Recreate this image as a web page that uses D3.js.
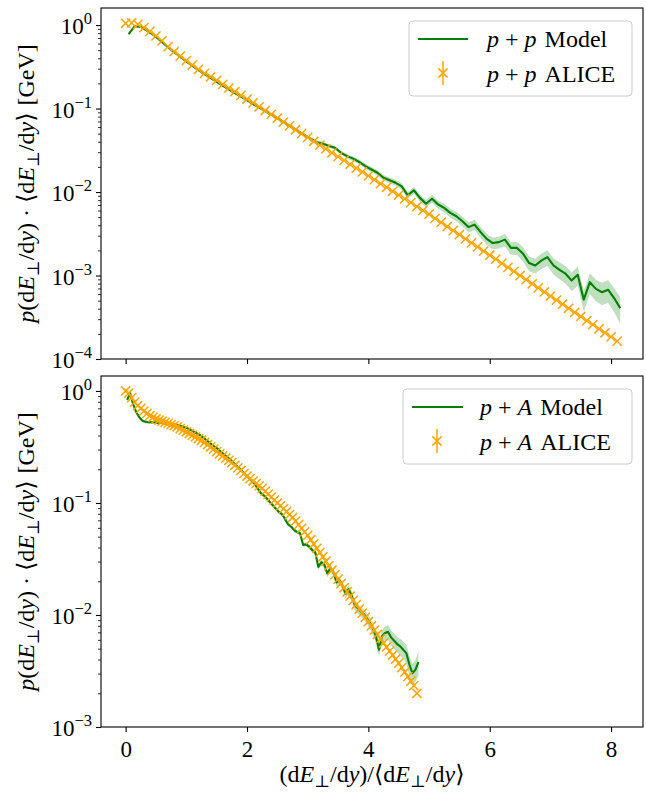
<!DOCTYPE html>
<html><head><meta charset="utf-8">
<script src="https://cdn.jsdelivr.net/npm/d3@7"></script>
<style>
body{margin:0;background:#fff}
svg{display:block}
text{font-family:"Liberation Serif","DejaVu Serif",serif;fill:#000}
</style>
</head><body><svg id="c" width="646" height="792"></svg>
<script>
// ---------- data: top panel (p+p) ----------
const ppAliceX = [0,0.1,0.2,0.3,0.4,0.5,0.6,0.7,0.8,0.9,1.0,1.1,1.2,1.3,1.4,1.5,1.6,1.7,1.8,1.9,
2.0,2.1,2.2,2.3,2.4,2.5,2.6,2.7,2.8,2.9,3.0,3.1,3.2,3.3,3.4,3.5,3.6,3.7,3.8,3.9,
4.0,4.1,4.2,4.3,4.4,4.5,4.6,4.7,4.8,4.9,5.0,5.1,5.2,5.3,5.4,5.5,5.6,5.7,5.8,5.9,
6.0,6.1,6.2,6.3,6.4,6.5,6.6,6.7,6.8,6.9,7.0,7.1,7.2,7.3,7.4,7.5,7.6,7.7,7.8,7.9,8.0,8.1];
const ppAliceY = [1.05,1.06,1.02,0.93,0.84,0.74,0.645,0.55,0.48,0.425,0.375,0.332,0.295,0.264,0.240,0.217,0.195,0.176,0.159,0.144,
0.130,0.117,0.105,0.0946,0.0851,0.0766,0.0689,0.0619,0.0557,0.0501,
0.0451,0.0405,0.0365,0.0328,0.0295,0.0265,0.0239,0.0215,0.0193,0.0174,
0.0156,0.0141,0.0126,0.0114,0.0102,0.0092,0.00828,0.00745,0.0067,0.00603,
0.00542,0.00484,0.00433,0.00386,0.00345,0.00308,0.00275,0.00246,0.0022,0.00196,
0.00175,0.00157,0.0014,0.00125,0.00112,0.000998,0.000891,0.000796,0.000711,0.000635,
0.000568,0.000507,0.000453,0.000405,0.000361,0.000323,0.000288,0.000258,0.00023,0.000206,
0.000184,0.000164];
const ppModelX = [0.05,0.15,0.25,0.35,0.45,0.55,0.65,0.75,0.85,0.95,1.05,1.15,1.25,1.35,1.45,1.55,1.65,1.75,1.85,1.95,
2.05,2.15,2.25,2.35,2.45,2.55,2.65,2.75,2.85,2.95,3.05,3.15,3.25,3.35,3.45,3.55,3.65,3.75,3.85,3.95,
4.05,4.15,4.25,4.35,4.45,4.55,4.65,4.75,4.85,4.95,5.05,5.15,5.25,5.35,5.45,5.55,5.65,5.75,5.85,5.95,
6.05,6.15,6.25,6.35,6.45,6.55,6.65,6.75,6.85,6.95,7.05,7.15,7.25,7.35,7.45,7.55,7.65,7.75,7.85,7.95,8.05,8.15];
const ppModelY = [0.78,0.97,0.95,0.86,0.77,0.67,0.58,0.505,0.445,0.39,
0.345,0.305,0.272,0.244,0.220,0.198,0.178,0.161,0.146,0.132,
0.119,0.108,0.098,0.089,0.0805,0.0725,0.0655,0.059,0.0532,0.048,
0.0435,0.0395,0.0380,0.0355,0.0339,0.0295,0.0269,0.0251,0.0229,0.0204,
0.0186,0.0170,0.0148,0.0138,0.0129,0.0117,0.00912,0.0105,0.00851,0.00724,
0.00832,0.00708,0.00646,0.00562,0.00513,0.00447,0.0038,0.00407,0.00331,0.00275,
0.00245,0.00251,0.00269,0.00214,0.00214,0.00182,0.00141,0.00132,0.00151,0.00166,
0.00132,0.00117,0.00105,0.000871,0.00102,0.000513,0.000832,0.000692,0.000631,0.000676,
0.000537,0.000407];
const ppModelErr = [0.03,0.02,0.02,0.02,0.02,0.02,0.02,0.02,0.02,0.02,
0.02,0.02,0.02,0.02,0.02,0.02,0.02,0.02,0.02,0.02,
0.03,0.03,0.03,0.03,0.03,0.03,0.03,0.03,0.03,0.03,
0.04,0.04,0.05,0.05,0.05,0.05,0.06,0.06,0.06,0.07,
0.07,0.07,0.08,0.08,0.08,0.09,0.09,0.1,0.1,0.1,
0.11,0.11,0.12,0.12,0.13,0.13,0.14,0.14,0.15,0.15,
0.16,0.16,0.17,0.17,0.18,0.19,0.2,0.2,0.21,0.21,
0.22,0.23,0.24,0.25,0.26,0.28,0.28,0.29,0.3,0.3,
0.32,0.35];

// ---------- data: bottom panel (p+A) ----------
const pAAliceX = [0,0.05,0.1,0.15,0.2,0.25,0.3,0.35,0.4,0.45,0.5,0.55,0.6,0.65,0.7,0.75,0.8,0.85,0.9,0.95,
1.0,1.05,1.1,1.15,1.2,1.25,1.3,1.35,1.4,1.45,1.5,1.55,1.6,1.65,1.7,1.75,1.8,1.85,1.9,1.95,
2.0,2.05,2.1,2.15,2.2,2.25,2.3,2.35,2.4,2.45,2.5,2.55,2.6,2.65,2.7,2.75,2.8,2.85,2.9,2.95,
3.0,3.05,3.1,3.15,3.2,3.25,3.3,3.35,3.4,3.45,3.5,3.55,3.6,3.65,3.7,3.75,3.8,3.85,3.9,3.95,
4.0,4.05,4.1,4.15,4.2,4.25,4.3,4.35,4.4,4.45,4.5,4.55,4.6,4.65,4.7,4.75,4.8];
const pAAliceY = [1.00,0.955,0.871,0.794,0.741,0.700,0.661,0.631,0.603,0.582,
0.562,0.550,0.537,0.525,0.513,0.501,0.490,0.479,0.462,0.447,
0.432,0.417,0.403,0.389,0.376,0.363,0.347,0.331,0.316,0.302,
0.288,0.275,0.263,0.251,0.240,0.229,0.217,0.206,0.195,0.184,
0.174,0.165,0.157,0.149,0.142,0.135,0.127,0.120,0.113,0.106,
0.100,0.0942,0.0887,0.0836,0.0787,0.0741,0.0689,0.0640,0.0594,0.0552,
0.0513,0.0470,0.0431,0.0394,0.0361,0.0331,0.0302,0.0275,0.0251,0.0229,
0.0209,0.0191,0.0175,0.0161,0.0147,0.0135,0.0124,0.0113,0.0104,0.00951,
0.00871,0.00798,0.00731,0.00670,0.00614,0.00562,0.00518,0.00476,0.00439,0.00404,
0.00372,0.00339,0.00309,0.00282,0.00257,0.00234,0.00200];
const pAModelX = [0.025,0.075,0.125,0.175,0.225,0.275,0.325,0.375,0.425,0.475,0.525,0.575,0.625,0.675,0.725,0.775,0.825,0.875,0.925,0.975,
1.025,1.075,1.125,1.175,1.225,1.275,1.325,1.375,1.425,1.475,1.525,1.575,1.625,1.675,1.725,1.775,1.825,1.875,1.925,1.975,
2.025,2.075,2.125,2.175,2.225,2.275,2.325,2.375,2.425,2.475,2.525,2.575,2.625,2.675,2.725,2.775,2.825,2.875,2.925,2.975,
3.025,3.075,3.125,3.175,3.225,3.275,3.325,3.375,3.425,3.475,3.525,3.575,3.625,3.675,3.725,3.775,3.825,3.875,3.925,3.975,
4.025,4.075,4.125,4.175,4.225,4.275,4.325,4.375,4.425,4.475,4.525,4.575,4.625,4.675,4.725,4.775,4.825];
const pAModelY = [0.832,0.955,0.759,0.646,0.582,0.543,0.531,0.525,0.525,0.525,
0.519,0.519,0.513,0.513,0.507,0.507,0.501,0.495,0.484,0.473,
0.462,0.447,0.432,0.417,0.403,0.385,0.367,0.347,0.331,0.316,
0.302,0.285,0.269,0.257,0.243,0.229,0.216,0.204,0.191,0.178,
0.168,0.158,0.148,0.135,0.123,0.117,0.110,0.102,0.0955,0.0891,
0.0832,0.0794,0.0724,0.0646,0.0617,0.0575,0.0550,0.0537,0.0422,0.0427,
0.0407,0.0380,0.0363,0.0269,0.0295,0.0282,0.0234,0.0263,0.0240,0.0195,
0.0204,0.0182,0.0155,0.0170,0.0148,0.0123,0.0115,0.0107,0.0102,0.00933,
0.00851,0.00759,0.00646,0.00490,0.00646,0.00692,0.00708,0.00631,0.00589,0.00550,
0.00525,0.00490,0.00457,0.00363,0.00302,0.00324,0.00380];
const pAModelErr = [0.03,0.03,0.03,0.03,0.03,0.03,0.03,0.03,0.03,0.03,
0.02,0.02,0.02,0.02,0.02,0.02,0.02,0.02,0.02,0.02,
0.02,0.02,0.02,0.02,0.02,0.02,0.02,0.02,0.02,0.02,
0.02,0.02,0.02,0.02,0.02,0.02,0.02,0.02,0.02,0.02,
0.03,0.03,0.03,0.03,0.03,0.03,0.03,0.03,0.03,0.03,
0.04,0.04,0.04,0.04,0.04,0.04,0.04,0.04,0.04,0.04,
0.05,0.05,0.05,0.06,0.06,0.06,0.07,0.07,0.07,0.08,
0.08,0.08,0.09,0.09,0.09,0.1,0.1,0.1,0.11,0.11,
0.12,0.12,0.13,0.13,0.14,0.14,0.15,0.15,0.16,0.16,
0.17,0.18,0.19,0.2,0.21,0.22,0.24];
const aliceRelErr = 0.03;

const xTicks = [0, 2, 4, 6, 8];
const ppYTicks = [1, 0.1, 0.01, 0.001, 0.0001];
const ppYExp = ["0", "\u22121", "\u22122", "\u22123", "\u22124"];
const pAYTicks = [1, 0.1, 0.01, 0.001];
const pAYExp = ["0", "\u22121", "\u22122", "\u22123"];
const ppSystem = "p";
const pASystem = "A";

// ---------- drawing ----------
const svg = d3.select("#c");
const FT = 23;   // tick labels
const FL = 24;   // axis labels / legend
const GREEN = "#008000", ORANGE = "#ffa500";
const left = 101, right = 643;
const x = d3.scaleLinear().domain([-0.406, 8.526]).range([left, right]);

const panels = [
  {id:"pp", top:8, bottom:359, dom:[1e-4, 1.6], ticks:ppYTicks, exps:ppYExp, sys:ppSystem,
   aX:ppAliceX, aY:ppAliceY, mX:ppModelX, mY:ppModelY, mE:ppModelErr, xLabels:false,
   leg:{x:409, y:21, w:223, h:75, lineX0:418, lineX1:468, lineY:39, textX:487, markX:443, markY:73}},
  {id:"pA", top:376, bottom:727, dom:[1e-3, 1.36], ticks:pAYTicks, exps:pAYExp, sys:pASystem,
   aX:pAAliceX, aY:pAAliceY, mX:pAModelX, mY:pAModelY, mE:pAModelErr, xLabels:true,
   leg:{x:403, y:389, w:229, h:75, lineX0:412, lineX1:463, lineY:407, textX:480, markX:437, markY:441}}
];

function minorTicks(dom){
  const out = [];
  const lo = Math.floor(Math.log10(dom[0])), hi = Math.ceil(Math.log10(dom[1]));
  for (let e = lo; e <= hi; e++) for (let k = 2; k <= 9; k++) {
    const v = k * Math.pow(10, e);
    if (v >= dom[0] && v <= dom[1]) out.push(v);
  }
  return out;
}

// parts: [text, style, dx]
function mathText(sel, fs, parts){
  parts.forEach(p => {
    const t = sel.append("tspan").text(p[0]);
    const st = p[1];
    if (st.includes("i")) t.attr("font-style", "italic");
    if (st.includes("sub")) t.attr("font-size", fs*0.7).attr("dy", fs*0.22);
    if (st.includes("up")) t.attr("dy", -fs*0.22);
    if (p[2]) t.attr("dx", p[2]);
  });
}

function drawCross(sel, r){
  return sel.attr("d", `M${-r},${-r}L${r},${r}M${-r},${r}L${r},${-r}`)
    .attr("stroke", ORANGE).attr("stroke-width", 1.5).attr("fill", "none");
}

panels.forEach((P, pi) => {
  const y = d3.scaleLog().domain(P.dom).range([P.bottom, P.top]);
  const g = svg.append("g");
  const clipId = "clip" + pi;
  svg.append("clipPath").attr("id", clipId).append("rect")
    .attr("x", left).attr("y", P.top).attr("width", right-left).attr("height", P.bottom-P.top);
  const plot = g.append("g").attr("clip-path", `url(#${clipId})`);

  const model = P.mX.map((v,i) => ({x:v, y:P.mY[i], e:P.mE[i]}));
  const alice = P.aX.map((v,i) => ({x:v, y:P.aY[i]}));

  plot.append("path").datum(model)
    .attr("d", d3.area().x(d => x(d.x)).y0(d => y(d.y*(1-d.e))).y1(d => y(d.y*(1+d.e))))
    .attr("fill", GREEN).attr("fill-opacity", 0.25).attr("stroke", "none");
  plot.append("path").datum(model)
    .attr("d", d3.line().x(d => x(d.x)).y(d => y(d.y)))
    .attr("fill", "none").attr("stroke", GREEN).attr("stroke-width", 2.1).attr("stroke-linejoin", "round");
  plot.selectAll(".eb").data(alice).join("line")
    .attr("x1", d => x(d.x)).attr("x2", d => x(d.x))
    .attr("y1", d => y(d.y*(1-aliceRelErr))).attr("y2", d => y(d.y*(1+aliceRelErr)))
    .attr("stroke", ORANGE).attr("stroke-width", 1.5);
  plot.selectAll(".mk").data(alice).join("path")
    .attr("transform", d => `translate(${x(d.x)},${y(d.y)})`)
    .call(drawCross, 4.6);

  const ya = g.append("g").attr("transform", `translate(${left},0)`)
    .call(d3.axisLeft(y).tickValues(P.ticks).tickSize(5).tickFormat(() => ""));
  ya.select(".domain").remove();
  ya.selectAll("line").attr("stroke-width", 1.1);
  const ym = g.append("g").attr("transform", `translate(${left},0)`)
    .call(d3.axisLeft(y).tickValues(minorTicks(P.dom)).tickSize(3).tickFormat(() => ""));
  ym.select(".domain").remove();
  ym.selectAll("line").attr("stroke-width", 0.8);
  P.ticks.forEach((v, i) => {
    const t = g.append("text").attr("x", left - 9).attr("y", y(v) + 9)
      .attr("text-anchor", "end").attr("font-size", FT);
    t.append("tspan").text("10");
    t.append("tspan").text(P.exps[i]).attr("font-size", FT*0.72).attr("dy", -10);
  });

  const xa = g.append("g").attr("transform", `translate(0,${P.bottom})`)
    .call(d3.axisBottom(x).tickValues(xTicks).tickSize(5).tickPadding(9)
      .tickFormat(P.xLabels ? d3.format("d") : () => ""));
  xa.select(".domain").remove();
  xa.selectAll("line").attr("stroke-width", 1.1);
  xa.selectAll("text").attr("font-size", FT);

  g.append("rect").attr("x", left).attr("y", P.top).attr("width", right-left).attr("height", P.bottom-P.top)
    .attr("fill", "none").attr("stroke", "#000").attr("stroke-width", 1.1);

  const cy = (P.top + P.bottom) / 2;
  const yl = g.append("text").attr("transform", `translate(34,${cy}) rotate(-90)`)
    .attr("text-anchor", "middle").attr("font-size", FL);
  mathText(yl, FL, [["p","i"],["(d","n"],["E","i"],["\u22a5","sub"],["/d","up"],["y","i"],[")","n"],["\u00b7","n",6],["\u27e8d","n",6],
    ["E","i"],["\u22a5","sub"],["/d","up"],["y","i"],["\u27e9","n"],["[GeV]","n",7]]);

  const L = P.leg;
  const lg = g.append("g");
  lg.append("rect").attr("x", L.x).attr("y", L.y).attr("width", L.w).attr("height", L.h).attr("rx", 4)
    .attr("fill", "#fff").attr("fill-opacity", 0.8).attr("stroke", "#cccccc").attr("stroke-width", 1);
  lg.append("line").attr("x1", L.lineX0).attr("x2", L.lineX1).attr("y1", L.lineY).attr("y2", L.lineY)
    .attr("stroke", GREEN).attr("stroke-width", 2.1);
  lg.append("line").attr("x1", L.markX).attr("x2", L.markX).attr("y1", L.markY-12).attr("y2", L.markY+12)
    .attr("stroke", ORANGE).attr("stroke-width", 1.5);
  lg.append("path").attr("transform", `translate(${L.markX},${L.markY})`).call(drawCross, 4.6);
  const t1 = lg.append("text").attr("x", L.textX).attr("y", L.lineY + 8).attr("font-size", FL);
  mathText(t1, FL, [["p","i"],["+","n",6],[P.sys,"i",6],["Model","n",8]]);
  const t2 = lg.append("text").attr("x", L.textX).attr("y", L.markY + 9).attr("font-size", FL);
  mathText(t2, FL, [["p","i"],["+","n",6],[P.sys,"i",6],["ALICE","n",8]]);
});

const xl = svg.append("text").attr("x", 372).attr("y", 782).attr("text-anchor", "middle").attr("font-size", FL);
mathText(xl, FL, [["(d","n"],["E","i"],["\u22a5","sub"],["/d","up"],["y","i"],[")/\u27e8d","n"],
  ["E","i"],["\u22a5","sub"],["/d","up"],["y","i"],["\u27e9","n"]]);
</script>
</body></html>
